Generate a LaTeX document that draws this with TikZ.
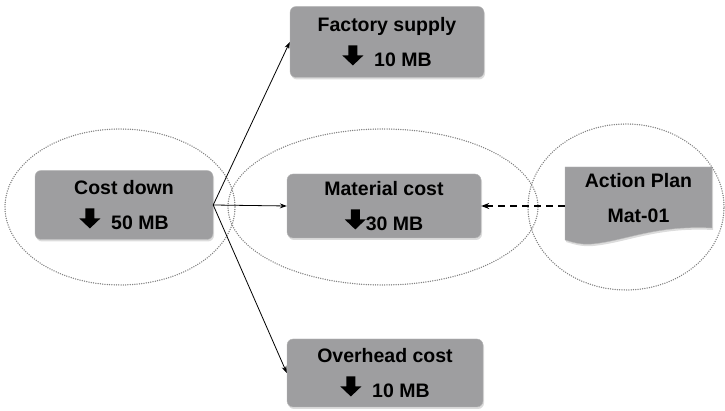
\documentclass[tikz,border=0pt]{standalone}
\usepackage{fontspec}
\setmainfont{Liberation Sans}
\usetikzlibrary{shapes.geometric, arrows.meta, positioning, shadows, backgrounds, calc}
\definecolor{boxgray}{RGB}{158,158,160}
\newcommand{\dn}{\tikz[baseline=-1pt, x=1pt, y=1pt, sharp corners]
    \fill[black, sharp corners] (-4.5,20) -- (4.5,20) -- (4.5,10) -- (10.5,10) -- (0,0) -- (-10.5,10) -- (-4.5,10) -- cycle;}

\begin{document}
\begin{tikzpicture}[x=1pt, y=1pt,
        box/.style={draw=gray!55, rounded corners=6pt, fill=boxgray, align=center,
            font=\fontsize{19.5}{35}\selectfont\bfseries,
            drop shadow={shadow xshift=1pt, shadow yshift=-2pt, fill=gray!55}},
        ring/.style={draw=gray, ellipse, line width=1.5pt, line cap=round,
            dash pattern=on 0pt off 2.3pt},
        link/.style={-{Stealth[length=7pt, width=5pt]}, line width=0.8pt},
        planlink/.style={-{Stealth[length=8pt, width=6pt]}, line width=1.4pt,
            dash pattern=on 7pt off 5pt}
    ]
        \useasboundingbox (0,0) rectangle (725,411);

        % Dotted rings
        \node[ring, minimum width=230pt, minimum height=156pt] (r_cost) at (120,204) {};
        \node[ring, minimum width=310pt, minimum height=156pt] (r_mat) at (383,204) {};
        \node[ring, minimum width=196pt, minimum height=166pt] (r_plan) at (626,204) {};

        % Boxes
        \node[box, minimum width=178pt, minimum height=69pt] (cost) at (124,206) {Cost down\\\dn\ \ 50 MB};
        \node[box, minimum width=194pt, minimum height=71pt] (factory) at (387,369) {Factory supply\\\dn\ \ 10 MB};
        \node[box, minimum width=194pt, minimum height=64pt] (material) at (384,205) {Material cost\\\dn30 MB};
        \node[box, minimum width=196pt, minimum height=68pt] (overhead) at (385,38) {Overhead cost\\\dn\ \ 10 MB};

        % Action plan
        \node[align=center, minimum width=147pt, font=\fontsize{19.5}{35}\selectfont\bfseries] (plan) at (638.5,213) {Action Plan\\Mat-01};
        \begin{pgfonlayer}{background}
            \fill[boxgray, draw=gray!55, drop shadow={shadow xshift=1pt, shadow yshift=-2pt, fill=gray!55}]
                (565,244) -- (712,244) -- (712,183)
                .. controls (655,186) and (625,170) .. (592,167)
                .. controls (580,166) and (572,169) .. (565,171) -- cycle;
        \end{pgfonlayer}

        % Links
        \draw[link] (cost.east) -- (factory.west);
        \draw[link] (cost.east) -- (material.west);
        \draw[link] (cost.east) -- (overhead.west);
        \draw[planlink] (plan.west |- material.east) -- (material.east);

    \end{tikzpicture}
\end{document}
